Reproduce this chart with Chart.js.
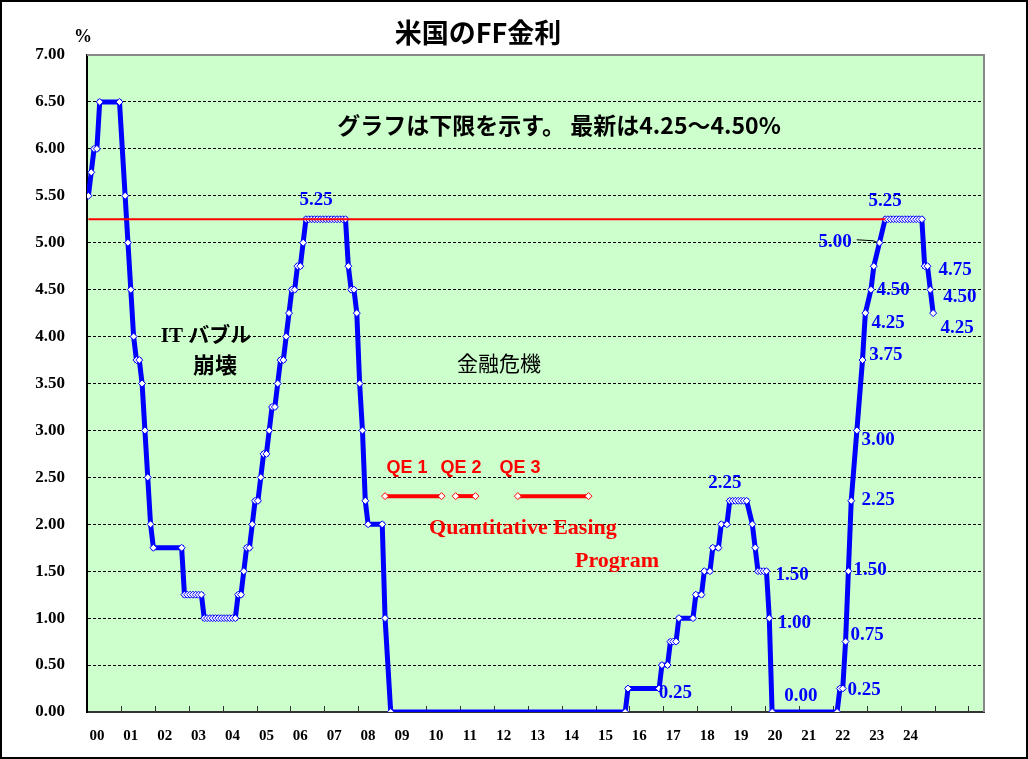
<!DOCTYPE html>
<html lang="ja">
<head>
<meta charset="utf-8">
<title>米国のFF金利</title>
<script src="https://cdn.jsdelivr.net/npm/chart.js@4.4.1/dist/chart.umd.min.js"></script>
<style>
  html, body { margin: 0; padding: 0; background: #fff; }
  #wrap { width: 1028px; height: 759px; }
</style>
</head>
<body>
<div id="wrap"><canvas id="ffChart" width="1028" height="759"></canvas></div>
<script>
// FF rate, lower bound (%), one entry per plotted marker
const ffMonths = [
  '2000-01', '2000-02', '2000-03', '2000-04', '2000-05', '2000-12',
  '2001-02', '2001-03', '2001-04', '2001-05', '2001-06', '2001-07', '2001-08', '2001-09', '2001-10', '2001-11', '2001-12',
  '2002-10', '2002-11', '2002-12',
  '2003-01', '2003-02', '2003-03', '2003-04', '2003-05', '2003-06', '2003-07', '2003-08', '2003-09', '2003-10', '2003-11', '2003-12',
  '2004-01', '2004-02', '2004-03', '2004-04', '2004-05', '2004-06', '2004-07', '2004-08', '2004-09', '2004-10', '2004-11', '2004-12',
  '2005-01', '2005-02', '2005-03', '2005-04', '2005-05', '2005-06', '2005-07', '2005-08', '2005-09', '2005-10', '2005-11', '2005-12',
  '2006-01', '2006-02', '2006-03', '2006-04', '2006-05', '2006-06', '2006-07', '2006-08', '2006-09', '2006-10', '2006-11', '2006-12',
  '2007-01', '2007-02', '2007-03', '2007-04', '2007-05', '2007-06', '2007-07', '2007-08', '2007-09', '2007-10', '2007-11', '2007-12',
  '2008-01', '2008-02', '2008-03', '2008-04', '2008-09', '2008-10', '2008-12',
  '2015-11', '2015-12',
  '2016-11', '2016-12',
  '2017-02', '2017-03', '2017-04', '2017-05', '2017-06', '2017-11', '2017-12',
  '2018-02', '2018-03', '2018-05', '2018-06', '2018-08', '2018-09', '2018-11', '2018-12',
  '2019-01', '2019-02', '2019-03', '2019-04', '2019-05', '2019-06', '2019-08', '2019-09', '2019-10', '2019-11', '2019-12',
  '2020-01', '2020-02', '2020-03',
  '2022-02', '2022-03', '2022-04', '2022-05', '2022-06', '2022-07', '2022-09', '2022-11', '2022-12',
  '2023-02', '2023-03', '2023-05', '2023-07', '2023-08', '2023-09', '2023-10', '2023-11', '2023-12',
  '2024-01', '2024-02', '2024-03', '2024-04', '2024-05', '2024-06', '2024-07', '2024-08', '2024-09', '2024-10', '2024-11', '2024-12'
];
const ffRates = [
  5.50, 5.75, 6.00, 6.00, 6.50, 6.50,
  5.50, 5.00, 4.50, 4.00, 3.75, 3.75, 3.50, 3.00, 2.50, 2.00, 1.75,
  1.75, 1.25, 1.25,
  1.25, 1.25, 1.25, 1.25, 1.25, 1.00, 1.00, 1.00, 1.00, 1.00, 1.00, 1.00,
  1.00, 1.00, 1.00, 1.00, 1.00, 1.25, 1.25, 1.50, 1.75, 1.75, 2.00, 2.25,
  2.25, 2.50, 2.75, 2.75, 3.00, 3.25, 3.25, 3.50, 3.75, 3.75, 4.00, 4.25,
  4.50, 4.50, 4.75, 4.75, 5.00, 5.25, 5.25, 5.25, 5.25, 5.25, 5.25, 5.25,
  5.25, 5.25, 5.25, 5.25, 5.25, 5.25, 5.25, 5.25, 4.75, 4.50, 4.50, 4.25,
  3.50, 3.00, 2.25, 2.00, 2.00, 1.00, 0.00,
  0.00, 0.25,
  0.25, 0.50,
  0.50, 0.75, 0.75, 0.75, 1.00, 1.00, 1.25,
  1.25, 1.50, 1.50, 1.75, 1.75, 2.00, 2.00, 2.25,
  2.25, 2.25, 2.25, 2.25, 2.25, 2.25, 2.00, 1.75, 1.50, 1.50, 1.50,
  1.50, 1.00, 0.00,
  0.00, 0.25, 0.25, 0.75, 1.50, 2.25, 3.00, 3.75, 4.25,
  4.50, 4.75, 5.00, 5.25, 5.25, 5.25, 5.25, 5.25, 5.25,
  5.25, 5.25, 5.25, 5.25, 5.25, 5.25, 5.25, 5.25, 4.75, 4.75, 4.50, 4.25
];

// 5.25% reference line
const peakMonths = ['2000-01', '2023-07'];
const peakRates = [5.25, 5.25];

// QE programmes (start, end), drawn at the QE level
const qe1Months = ['2008-10', '2010-06'];
const qe2Months = ['2010-11', '2011-06'];
const qe3Months = ['2012-09', '2014-10'];
const qeLevel = [2.30, 2.30];

const yearLabels = ['00', '01', '02', '03', '04', '05', '06', '07', '08', '09', '10', '11', '12',
  '13', '14', '15', '16', '17', '18', '19', '20', '21', '22', '23', '24'];
const yTicks = [0, 0.5, 1, 1.5, 2, 2.5, 3, 3.5, 4, 4.5, 5, 5.5, 6, 6.5, 7];

// annotations: [text, month position, value position]
const blueNotes = [
  ['5.25', 80.6, 5.45], ['2.25', 225.3, 2.44], ['0.25', 207.8, 0.20],
  ['1.50', 249.1, 1.46], ['1.00', 249.9, 0.95], ['0.00', 252.2, 0.17],
  ['5.25', 282.0, 5.44], ['5.00', 264.3, 5.01], ['4.50', 284.8, 4.49],
  ['4.25', 283.1, 4.14], ['3.75', 282.3, 3.80], ['3.00', 279.5, 2.90],
  ['2.25', 279.5, 2.26], ['1.50', 276.7, 1.51], ['0.75', 275.6, 0.82],
  ['0.25', 274.6, 0.23], ['4.75', 306.8, 4.71], ['4.50', 308.5, 4.42],
  ['4.25', 307.5, 4.09]
];
const redNotes = [
  ['QE 1', 112.8, 2.60, 'bold 18px "Liberation Sans"'],
  ['QE 2', 131.9, 2.60, 'bold 18px "Liberation Sans"'],
  ['QE 3', 152.8, 2.60, 'bold 18px "Liberation Sans"'],
  ['Quantitative Easing', 153.8, 1.96, 'bold 22px "Liberation Serif"'],
  ['Program', 187.1, 1.61, 'bold 22px "Liberation Serif"']
];
const blackNotes = [
  ['グラフは下限を示す。 最新は4.25～4.50%', 166.6, 6.25, 'bold 23px "Noto Sans CJK JP"'],
  ['IT バブル', 41.6, 4.00, 'bold 21px "Liberation Serif", "Noto Sans CJK JP"'],
  ['崩壊', 44.8, 3.70, 'bold 22px "Noto Sans CJK JP"'],
  ['金融危機', 145.3, 3.72, '21px "Noto Sans CJK JP"']
];

const monthIndex = s => {
  const [y, m] = s.split('-').map(Number);
  return (y - 2000) * 12 + (m - 1);
};
const toPoints = (months, values) => months.map((s, i) => ({ x: monthIndex(s), y: values[i] }));

function lineSet(data, color, width, marker) {
  return {
    data,
    borderColor: color,
    borderWidth: width,
    tension: 0,
    pointStyle: 'rectRot',
    pointRadius: marker ? 3.5 : 0,
    pointBackgroundColor: '#ffffff',
    pointBorderColor: color,
    pointBorderWidth: 1
  };
}

function note(ctx, chart, text, m, v, font, color) {
  const { x, y } = chart.scales;
  ctx.font = font;
  ctx.fillStyle = color;
  ctx.textAlign = 'center';
  ctx.textBaseline = 'middle';
  ctx.fillText(text, x.getPixelForValue(m), y.getPixelForValue(v));
}

const framePlugin = {
  id: 'frame',
  beforeDraw(chart) {
    const { ctx, chartArea: a } = chart;
    ctx.save();
    ctx.fillStyle = '#ffffff';
    ctx.fillRect(0, 0, chart.width, chart.height);
    ctx.fillStyle = '#CCFFCC';
    ctx.fillRect(a.left, a.top, a.right - a.left, a.bottom - a.top);
    ctx.restore();
  },
  beforeDatasetsDraw(chart) {
    const { ctx, chartArea: a } = chart;
    const x = chart.scales.x;
    ctx.save();
    ctx.strokeStyle = '#888888';
    ctx.lineWidth = 2;
    ctx.beginPath();
    ctx.moveTo(a.left, a.top);
    ctx.lineTo(a.right, a.top);
    ctx.lineTo(a.right, a.bottom);
    ctx.stroke();
    // year separators, pointing into the plot
    ctx.strokeStyle = '#333333';
    ctx.lineWidth = 1;
    for (let v = 11.5; v < x.max; v += 12) {
      const px = Math.round(x.getPixelForValue(v)) + 0.5;
      ctx.beginPath();
      ctx.moveTo(px, a.bottom);
      ctx.lineTo(px, a.bottom - 6);
      ctx.stroke();
    }
    ctx.restore();
  },
  afterDraw(chart) {
    const { ctx } = chart;
    const { x, y } = chart.scales;
    ctx.save();

    blackNotes.forEach(n => note(ctx, chart, n[0], n[1], n[2], n[3], '#000000'));
    redNotes.forEach(n => note(ctx, chart, n[0], n[1], n[2], n[3], '#FF0000'));
    blueNotes.forEach(n => note(ctx, chart, n[0], n[1], n[2], 'bold 19px "Liberation Serif"', '#0000FF'));

    // leader from the 5.00 label to its point
    const lbl = blueNotes[7];
    ctx.font = 'bold 19px "Liberation Serif"';
    const lx = x.getPixelForValue(lbl[1]) + ctx.measureText(lbl[0]).width / 2 + 5;
    const ly = y.getPixelForValue(lbl[2]) - 2;
    const px = x.getPixelForValue(monthIndex('2023-05'));
    const py = y.getPixelForValue(5.00);
    ctx.strokeStyle = '#000000';
    ctx.lineWidth = 1;
    ctx.beginPath();
    ctx.moveTo(lx, ly);
    ctx.lineTo(px - 6, ly + 1);
    ctx.lineTo(px - 2, py);
    ctx.stroke();

    ctx.fillStyle = '#000000';
    ctx.textAlign = 'center';
    ctx.textBaseline = 'middle';
    ctx.font = 'bold 27px "Noto Sans CJK JP"';
    ctx.fillText('米国のFF金利', 478, 33);
    ctx.font = 'bold 18px "Liberation Serif"';
    ctx.fillText('%', 83, 37);

    ctx.strokeStyle = '#000000';
    ctx.lineWidth = 2;
    ctx.strokeRect(1, 1, chart.width - 2, chart.height - 2);
    ctx.restore();
  }
};

const ffDataset = lineSet(toPoints(ffMonths, ffRates), '#0000FF', 5, true);
ffDataset.order = 2;
const peakDataset = lineSet(toPoints(peakMonths, peakRates), '#FF0000', 2, false);
peakDataset.order = 1;
const qeSets = [qe1Months, qe2Months, qe3Months].map(m => {
  const ds = lineSet(toPoints(m, qeLevel), '#FF0000', 4, true);
  ds.order = 0;
  return ds;
});

new Chart(document.getElementById('ffChart').getContext('2d'), {
  type: 'line',
  data: { datasets: [ffDataset, peakDataset, ...qeSets] },
  options: {
    responsive: false,
    animation: false,
    devicePixelRatio: 1,
    layout: { padding: { left: 0, top: 55, right: 44, bottom: 0 } },
    plugins: { legend: { display: false }, tooltip: { enabled: false } },
    scales: {
      x: {
        type: 'linear',
        min: -0.5,
        max: 317,
        afterFit: s => { s.height = 47; },
        afterBuildTicks: s => { s.ticks = yearLabels.map((_, i) => ({ value: 12 * i + 3 })); },
        ticks: {
          autoSkip: false,
          maxRotation: 0,
          padding: 15,
          color: '#000000',
          font: { family: 'Liberation Serif', size: 15, weight: 'bold' },
          callback: (v, i) => yearLabels[i]
        },
        grid: { display: false, drawTicks: false },
        border: { display: true, color: '#333333', width: 2 }
      },
      y: {
        min: 0,
        max: 7,
        afterFit: s => { s.width = 87; },
        afterBuildTicks: s => { s.ticks = yTicks.map(v => ({ value: v })); },
        ticks: {
          padding: 22,
          color: '#000000',
          font: { family: 'Liberation Serif', size: 17, weight: 'bold' },
          callback: v => v.toFixed(2)
        },
        grid: { color: '#000000', lineWidth: 1, drawTicks: false },
        border: { display: true, color: '#000000', width: 2, dash: [3, 2] }
      }
    }
  },
  plugins: [framePlugin]
});
</script>
</body>
</html>
